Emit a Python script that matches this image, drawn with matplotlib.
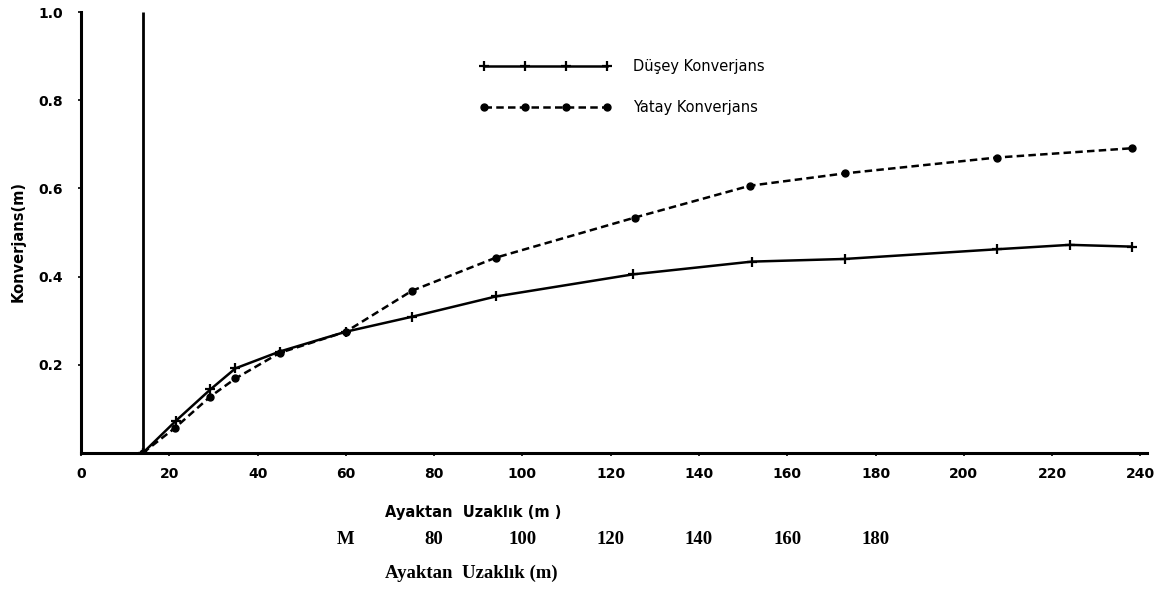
import numpy as np
import matplotlib
matplotlib.use("Agg")
import matplotlib.pyplot as plt
import matplotlib.transforms as mtransforms

# ---------------- data ----------------
dusey_x = [14, 21.5, 29.3, 35, 45, 60, 75, 94, 125, 152, 173, 207.5, 224, 238]
dusey_y = [0.0, 0.073, 0.144, 0.192, 0.230, 0.275, 0.309, 0.355, 0.405, 0.434, 0.440, 0.462, 0.472, 0.468]

yatay_x = [14, 21.3, 29.3, 35, 45, 60, 75, 94, 125.5, 151.5, 173, 207.5, 238]
yatay_y = [0.0, 0.057, 0.128, 0.169, 0.227, 0.275, 0.368, 0.443, 0.534, 0.606, 0.634, 0.670, 0.691]

divider_x = 14

xticks = [0, 20, 40, 60, 80, 100, 120, 140, 160, 180, 200, 220, 240]
yticks = [0.2, 0.4, 0.6, 0.8, 1.0]
ytick_labels = ["0.2", "0.4", "0.6", "0.8", "1.0"]

extra_row_pos = [60, 80, 100, 120, 140, 160, 180]
extra_row_labels = ["M", "80", "100", "120", "140", "160", "180"]

legend_labels = ["Düşey Konverjans", "Yatay Konverjans"]
ylabel_text = "Konverjans(m)"
xlabel_sans = "Ayaktan  Uzaklık (m )"
xlabel_serif = "Ayaktan  Uzaklık (m)"

# ---------------- figure ----------------
W, H = 1158, 591
fig = plt.figure(figsize=(W / 100, H / 100), dpi=100)
ax_l, ax_r, ax_t, ax_b = 81, 1147, 12, 453
ax = fig.add_axes([ax_l / W, 1 - ax_b / H, (ax_r - ax_l) / W, (ax_b - ax_t) / H])
ax.set_xlim(0, 241.5)
ax.set_ylim(0, 1.0)

for s in ["top", "right"]:
    ax.spines[s].set_visible(False)
for s in ["left", "bottom"]:
    ax.spines[s].set_linewidth(2.2)
    ax.spines[s].set_color("black")

ax.set_xticks(xticks)
ax.set_xticklabels([str(v) for v in xticks], fontsize=10, fontweight="bold")
ax.set_yticks(yticks)
ax.set_yticklabels(ytick_labels, fontsize=10, fontweight="bold")
ax.tick_params(axis="x", length=2.5, width=1.2, pad=7.5)
ax.tick_params(axis="y", length=2.5, width=1.2, pad=10.5)

# divider line
ax.plot([divider_x, divider_x], [0, 1.0], color="black", lw=2.0, solid_capstyle="butt")

l1, = ax.plot(dusey_x, dusey_y, color="black", lw=1.8, marker="+", ms=7, mew=1.6,
              label=legend_labels[0])
l2, = ax.plot(yatay_x, yatay_y, color="black", lw=1.8, ls=(0, (3.0, 1.7)), marker="o",
              ms=5, label=legend_labels[1])

ax.legend(handles=[l1, l2], loc="upper left", bbox_to_anchor=(480 / W, 1 - 59 / H),
          bbox_transform=fig.transFigure, frameon=False, numpoints=4,
          handlelength=9.0, handletextpad=1.5, labelspacing=1.8, borderpad=0,
          borderaxespad=0, prop={"size": 10.5, "family": "DejaVu Sans"})

# y label
fig.text(18 / W, 1 - 241 / H, ylabel_text, rotation=90, ha="center", va="center",
         fontsize=10.5, fontweight="bold")

# x label (sans)
fig.text(385 / W, 1 - 512 / H, xlabel_sans, ha="left", va="center", fontsize=10.5,
         fontweight="bold")

# extra row of serif numbers
trans = mtransforms.blended_transform_factory(ax.transData, fig.transFigure)
for p, lab in zip(extra_row_pos, extra_row_labels):
    ax.text(p, 1 - 540 / H, lab, transform=trans, ha="center", va="center",
            fontsize=13.5, fontweight="bold", family="Liberation Serif", clip_on=False)

fig.text(385 / W, 1 - 573 / H, xlabel_serif, ha="left", va="center", fontsize=13.5,
         fontweight="bold", family="Liberation Serif")

fig.savefig("out.png", dpi=100)
